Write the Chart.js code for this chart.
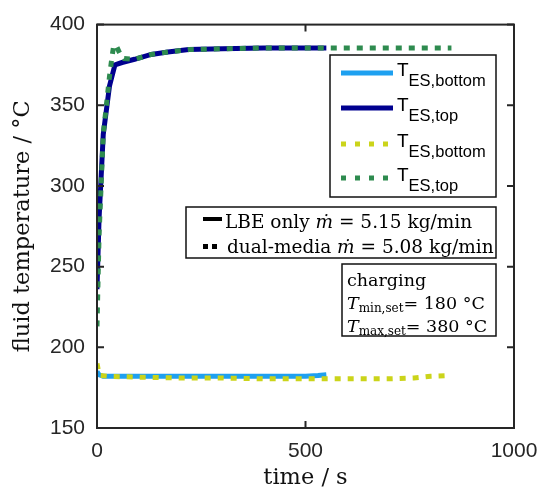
<!DOCTYPE html>
<html>
<head>
<meta charset="utf-8">
<script src="https://cdn.jsdelivr.net/npm/chart.js@4.4.1/dist/chart.umd.min.js"></script>
<style>
  html, body { margin: 0; padding: 0; background: #fff; }
  #wrap { width: 554px; height: 495px; }
</style>
</head>
<body>
<div id="wrap"><canvas id="temp-chart" width="554" height="495"></canvas></div>
<script>
// time in s, temperature in degC
const lbeBottomTime = [0, 5, 15, 50, 100, 200, 300, 400, 500, 530, 550];
const lbeBottomTemp = [185, 183, 182, 182, 182, 182, 182, 182, 182, 182.5, 183];

const lbeTopTime = [0, 5, 15, 30, 43, 60, 90, 130, 170, 220, 300, 400, 550];
const lbeTopTemp = [236, 280, 332, 362, 375, 376.5, 378.5, 381.5, 383, 384.5, 385, 385.5, 385.5];

const dualBottomTime = [0, 3, 8, 30, 100, 200, 300, 400, 500, 600, 700, 760, 800, 850];
const dualBottomTemp = [190, 186, 182.5, 182, 181.5, 181, 181, 180.5, 180.5, 180.5, 180.5, 181, 182, 182.5];

const dualTopTime = [0, 5, 15, 30, 36, 40, 46, 55, 65, 90, 130, 170, 220, 300, 400, 550, 700, 850];
const dualTopTemp = [213, 270, 332, 368, 380, 387, 387, 382, 379, 378.5, 381.5, 383, 384.5, 385, 385.5, 385.5, 385.5, 385.5];

const seriesSub = ["ES,bottom", "ES,top", "ES,bottom", "ES,top"];
const seriesColors = ["#1ea0f0", "#00008f", "#cbd41a", "#2e8b4f"];
const xTicks = [0, 500, 1000];
const yTicks = [150, 200, 250, 300, 350, 400];

const axisColor = "#262626";
const serif = "'DejaVu Serif', 'Liberation Serif', serif";
const sans = "'Liberation Sans', Arial, sans-serif";

function pts(xs, ys) {
  return xs.map((x, i) => ({ x: x, y: ys[i] }));
}

function mkDataset(i, xs, ys, dotted) {
  return {
    label: "T_" + seriesSub[i],
    data: pts(xs, ys),
    borderColor: seriesColors[i],
    borderWidth: 5,
    borderDash: dotted ? [6, 7] : [],
    borderCapStyle: "butt",
    pointRadius: 0,
    tension: 0,
    fill: false,
    order: dotted ? 0 : 1,
  };
}

// inside tick marks + closing box on top/right
const boxPlugin = {
  id: "box",
  afterDatasetsDraw(chart) {
    const { ctx, chartArea: a, scales } = chart;
    ctx.save();
    ctx.strokeStyle = axisColor;
    ctx.lineWidth = 2;
    ctx.strokeRect(a.left, a.top, a.right - a.left, a.bottom - a.top);
    const tl = 7;
    ctx.beginPath();
    yTicks.forEach((v) => {
      const y = scales.y.getPixelForValue(v);
      ctx.moveTo(a.left, y); ctx.lineTo(a.left + tl, y);
      ctx.moveTo(a.right, y); ctx.lineTo(a.right - tl, y);
    });
    xTicks.forEach((v) => {
      const x = scales.x.getPixelForValue(v);
      ctx.moveTo(x, a.bottom); ctx.lineTo(x, a.bottom - tl);
      ctx.moveTo(x, a.top); ctx.lineTo(x, a.top + tl);
    });
    ctx.stroke();
    ctx.restore();
  },
};

function drawBox(ctx, x, y, w, h) {
  ctx.fillStyle = "#fff";
  ctx.fillRect(x, y, w, h);
  ctx.strokeStyle = "#111";
  ctx.lineWidth = 1.5;
  ctx.strokeRect(x, y, w, h);
}

// draws text segments [text, font, dy] one after the other
function drawRun(ctx, x, y, parts) {
  parts.forEach((p) => {
    ctx.font = p[1];
    ctx.fillText(p[0], x, y + (p[2] || 0));
    x += ctx.measureText(p[0]).width;
  });
  return x;
}

const legendPlugin = {
  id: "legendBoxes",
  afterDraw(chart) {
    const ctx = chart.ctx;
    const ds = chart.data.datasets;
    ctx.save();
    ctx.textBaseline = "alphabetic";

    // series legend
    drawBox(ctx, 330, 55, 166, 142);
    const rowY = [73, 108, 144, 178];
    ds.forEach((d, i) => {
      const y = rowY[i];
      ctx.strokeStyle = d.borderColor;
      ctx.lineWidth = 5;
      ctx.lineCap = "butt";
      ctx.setLineDash(d.borderDash.length ? [5, 9] : []);
      ctx.beginPath();
      ctx.moveTo(341, y);
      ctx.lineTo(393, y);
      ctx.stroke();
      ctx.setLineDash([]);
      ctx.fillStyle = "#000";
      drawRun(ctx, 397, y + 3, [
        ["T", "19px " + sans, 0],
        [seriesSub[i], "16.5px " + sans, 10],
      ]);
    });

    // case legend
    drawBox(ctx, 186, 207, 310, 51);
    ctx.fillStyle = "#000";
    ctx.fillRect(203, 217, 19, 4);
    ctx.fillRect(203, 244, 5, 5);
    ctx.fillRect(212, 244, 5, 5);
    const fb = "18.5px " + serif;
    const fbi = "italic 18.5px " + serif;
    drawRun(ctx, 225, 228, [["LBE only ", fb], ["ṁ", fbi], [" = 5.15 kg/min", fb]]);
    drawRun(ctx, 227, 253, [["dual-media ", fb], ["ṁ", fbi], [" = 5.08 kg/min", fb]]);

    // conditions
    const f = "17.5px " + serif;
    const fi = "italic 17.5px " + serif;
    drawBox(ctx, 342, 264, 154, 72);
    ctx.fillStyle = "#000";
    drawRun(ctx, 347, 286, [["charging", f]]);
    const fs = "12px " + serif;
    drawRun(ctx, 347, 309, [["T", fi], ["min,set", fs, 3], ["= 180 °C", f]]);
    drawRun(ctx, 347, 332, [["T", fi], ["max,set", fs, 3], ["= 380 °C", f]]);
    ctx.restore();
  },
};

const chartData = {
  type: "line",
  data: {
    datasets: [
      mkDataset(0, lbeBottomTime, lbeBottomTemp, false),
      mkDataset(1, lbeTopTime, lbeTopTemp, false),
      mkDataset(2, dualBottomTime, dualBottomTemp, true),
      mkDataset(3, dualTopTime, dualTopTemp, true),
    ],
  },
  options: {
    responsive: false,
    animation: false,
    layout: { padding: { top: 14, right: 40, left: 0, bottom: 0 } },
    plugins: {
      legend: { display: false },
      tooltip: { enabled: false },
    },
    scales: {
      x: {
        type: "linear",
        min: 0,
        max: 1000,
        afterBuildTicks: (s) => { s.ticks = xTicks.map((v) => ({ value: v })); },
        afterFit: (s) => { s.height = 67; },
        grid: { display: false, drawTicks: false },
        border: { display: true, color: axisColor, width: 2 },
        ticks: {
          color: axisColor,
          font: { family: sans, size: 21 },
          padding: 11,
          maxRotation: 0,
          callback: (v) => String(v),
        },
        title: {
          display: true,
          text: "time / s",
          color: "#111",
          font: { family: serif, size: 22.5 },
          padding: { top: 0, bottom: 3 },
        },
      },
      y: {
        type: "linear",
        min: 150,
        max: 400,
        afterBuildTicks: (s) => { s.ticks = yTicks.map((v) => ({ value: v })); },
        afterFit: (s) => { s.width = 97; },
        grid: { display: false, drawTicks: false },
        border: { display: true, color: axisColor, width: 2 },
        ticks: { color: axisColor, font: { family: sans, size: 21 }, padding: 12 },
        title: {
          display: true,
          text: "fluid temperature / °C",
          color: "#111",
          font: { family: serif, size: 22.5 },
          padding: { top: 10, bottom: 0 },
        },
      },
    },
  },
  plugins: [boxPlugin, legendPlugin],
};

var tempChart = new Chart(document.getElementById("temp-chart"), chartData);
</script>
</body>
</html>
